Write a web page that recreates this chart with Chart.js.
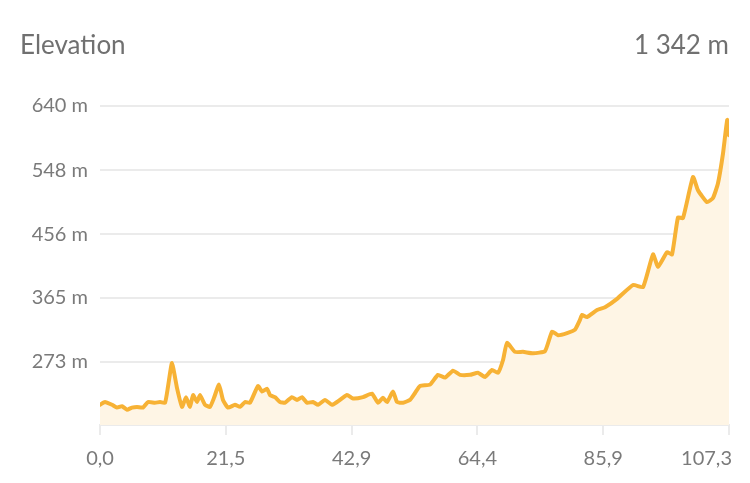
<!DOCTYPE html>
<html>
<head>
<meta charset="utf-8">
<script src="https://cdn.jsdelivr.net/npm/chart.js@4"></script>
<style>
  html, body { margin: 0; padding: 0; background: #fff; }
  #wrap { position: relative; width: 750px; height: 483px; }
  canvas { position: absolute; left: 0; top: 0; }
  .hdr { position: absolute; top: 31px; font-family: Lato, "Open Sans", sans-serif; font-size: 26px; line-height: 26px; color: #707070; white-space: nowrap; }
  #title { left: 20px; }
  #total { right: 21px; }
</style>
</head>
<body>
<div id="wrap">
  <canvas id="c" width="750" height="483"></canvas>
  <div class="hdr" id="title">Elevation</div>
  <div class="hdr" id="total">1 342 m</div>
</div>
<script>
// Distance along route (km)
const distanceKm = [0, 0.85, 2.05, 2.90, 3.75, 4.61, 5.46, 6.31, 7.34, 8.19, 9.38, 10.24, 11.09, 11.60, 12.28, 13.14, 13.99, 14.67, 15.35, 15.87, 16.55, 17.06, 17.91, 18.76, 19.45, 20.30, 20.98, 21.84, 23.03, 23.88, 24.74,
  25.59, 26.95, 27.64, 28.49, 29.00, 29.85, 30.71, 31.56, 32.75, 33.61, 34.46, 35.31, 36.34, 37.19, 38.38, 39.58, 40.43, 42.14, 43.16, 44.86, 46.40, 47.42, 48.28, 48.96, 49.98, 50.67, 51.69, 52.88, 53.74, 54.59, 56.29,
  57.66, 58.85, 60.22, 61.41, 63.12, 64.48, 65.68, 66.87, 67.89, 68.74, 69.43, 70.79, 72.16, 73.87, 75.91, 77.11, 78.13, 79.67, 81.03, 81.88,
  82.23, 83.08, 84.79, 86.15, 88.20, 90.93, 92.63, 94.34, 95.19, 96.73, 97.58, 98.60, 99.45, 101.16, 102.01, 103.55, 104.57, 105.42, 106.28, 107.00, 107.30];
// Elevation (m)
const elevationM = [211, 215, 211, 207, 209, 204, 207, 208, 207, 215, 214, 215, 214, 237, 271, 235, 208, 222, 208, 225, 215, 225, 211, 208, 221, 240, 218, 207, 211, 208, 215,
  214, 238, 230, 234, 225, 222, 215, 214, 222, 218, 222, 214, 215, 211, 218, 211, 215, 225, 220, 222, 227, 214, 221, 215, 230, 215, 214, 218, 228, 238, 240,
  254, 250, 260, 254, 254, 257, 251, 261, 257, 275, 300, 287, 287, 285, 288, 316, 311, 314, 319, 333,
  340, 337, 347, 351, 363, 383, 380, 427, 409, 430, 427, 480, 479, 538, 519, 502, 508, 529, 572, 620, 598];
// Axis ticks
const xTicks = [0, 21.46, 42.92, 64.38, 85.84, 107.3];
const xTickLabels = ['0,0', '21,5', '42,9', '64,4', '85,9', '107,3'];
const yTicks = [273, 365, 456, 548, 640];
const yMin = 182;
const yMax = 640;

const points = distanceKm.map((d, i) => ({ x: d, y: elevationM[i] }));
const labelColor = '#7a7a7a';
const gridColor = '#ebebeb';
const fontFamily = 'Lato, "Open Sans", sans-serif';

const xLabelPlugin = {
  id: 'xLabels',
  afterDraw(chart) {
    const ctx = chart.ctx;
    const sx = chart.scales.x;
    ctx.save();
    ctx.font = '20px ' + fontFamily;
    ctx.fillStyle = labelColor;
    ctx.textBaseline = 'alphabetic';
    xTicks.forEach((v, i) => {
      const px = sx.getPixelForValue(v);
      if (i === xTicks.length - 1) {
        ctx.textAlign = 'right';
        ctx.fillText(xTickLabels[i], px + 3, 465);
      } else {
        ctx.textAlign = 'center';
        ctx.fillText(xTickLabels[i], px, 465);
      }
    });
    ctx.restore();
  }
};

new Chart(document.getElementById('c'), {
  type: 'line',
  data: {
    datasets: [{
      data: points,
      borderColor: '#F7B235',
      backgroundColor: '#FEF5E5',
      borderWidth: 4,
      pointRadius: 0,
      tension: 0.15,
      fill: 'start',
      borderJoinStyle: 'round',
      borderCapStyle: 'round'
    }]
  },
  options: {
    responsive: false,
    animation: false,
    layout: { padding: { top: 106, right: 21, left: 0, bottom: 0 } },
    plugins: { legend: { display: false }, tooltip: { enabled: false }, title: { display: false } },
    scales: {
      x: {
        type: 'linear',
        min: 0,
        max: 107.3,
        afterBuildTicks: (scale) => { scale.ticks = xTicks.map(v => ({ value: v })); },
        afterFit: (scale) => { scale.height = 58; },
        ticks: { display: false },
        grid: { drawOnChartArea: false, drawTicks: true, tickLength: 10, color: gridColor, lineWidth: 2 },
        border: { display: true, color: gridColor, width: 2 }
      },
      y: {
        min: yMin,
        max: yMax,
        afterBuildTicks: (scale) => { scale.ticks = yTicks.map(v => ({ value: v })); },
        afterFit: (scale) => { scale.width = 100; },
        ticks: {
          callback: (v) => v + ' m',
          color: labelColor,
          font: { family: fontFamily, size: 20 },
          padding: 12
        },
        grid: { drawTicks: false, color: gridColor, lineWidth: 2 },
        border: { display: false }
      }
    }
  },
  plugins: [xLabelPlugin]
});
</script>
</body>
</html>
